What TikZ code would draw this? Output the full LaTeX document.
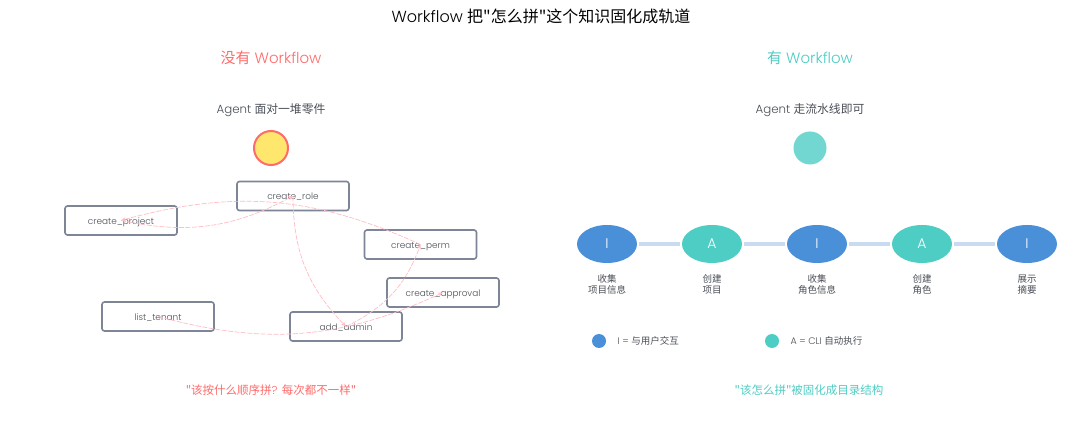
\documentclass[tikz,border=0pt]{standalone}
\usepackage{fontspec}
\setmainfont{Poppins Light}
\newfontfamily\zh{Noto Sans CJK SC}
\usetikzlibrary{arrows.meta,shapes.geometric}
\definecolor{redc}{HTML}{FF6B6B}
\definecolor{tealc}{HTML}{4ECDC4}
\definecolor{bluec}{HTML}{4A90D9}
\definecolor{linkc}{HTML}{C9DBF0}
\definecolor{boxc}{HTML}{7D8597}
\definecolor{textc}{HTML}{4A4F57}
\definecolor{edgec}{HTML}{FFBDC5}
\definecolor{yellowc}{HTML}{FFE66D}
\tikzset{
  x=1pt,y=-1pt,
  toolbox/.style={draw=boxc,line width=1.6pt,rounded corners=2.5pt,minimum width=112pt,minimum height=29pt,inner sep=0pt,text height=8pt,text depth=0pt,text=textc,font=\fontsize{8.9}{11}\selectfont},
  mess/.style={draw=edgec,line width=0.7pt,dash pattern=on 5pt off 1.5pt,-{Stealth[length=5pt,width=4pt]}},
  stage/.style={ellipse,minimum width=60pt,minimum height=38pt,inner sep=0pt,outer sep=2pt,text=white,font=\fontsize{14}{16}\selectfont},
  interactstage/.style={stage,fill=bluec},
  autostage/.style={stage,fill=tealc},
  link/.style={draw=linkc,line width=4pt},
  stagecap/.style={align=center,text=textc,font=\fontsize{9.5}{11}\selectfont\zh},
  legendtext/.style={anchor=west,text=textc,font=\fontsize{9.5}{10}\selectfont},
}
\begin{document}
\begin{tikzpicture}
\useasboundingbox[fill=white] (0,0) rectangle (1080,422);
\node (title) at (541,16) {\fontsize{16}{18}\selectfont Workflow {\zh 把"怎么拼"这个知识固化成轨道}};
\node[text=redc] (lefthead) at (271,57.5) {\fontsize{15}{17}\selectfont{\zh 没有} Workflow};
\node[text=tealc] (righthead) at (810,57.5) {\fontsize{15}{17}\selectfont{\zh 有} Workflow};
\node[text=textc] (leftagent) at (271,110) {\fontsize{11.8}{14}\selectfont Agent {\zh 面对一堆零件}};
\node[text=textc] (rightagent) at (810,110) {\fontsize{11.8}{14}\selectfont Agent {\zh 走流水线即可}};
\node[circle,draw=redc,line width=2pt,fill=yellowc,minimum size=34pt,inner sep=0pt] (agentA) at (271,148) {};
\node[circle,fill=tealc!80!white,minimum size=33pt,inner sep=0pt] (agentB) at (810,148) {};

\node[toolbox] (role) at (293,196) {create\_role};
\node[toolbox] (project) at (121,220.5) {create\_project};
\node[toolbox] (perm) at (420.5,244.5) {create\_perm};
\node[toolbox] (approval) at (443,292.5) {create\_approval};
\node[toolbox] (tenant) at (158,316.5) {list\_tenant};
\node[toolbox] (admin) at (346,326.5) {add\_admin};

\draw[mess] (project.center) to[bend right=20] (role.center);
\draw[mess] (perm.center) to[bend right=20] (project.center);
\draw[mess] (role.center) to[bend right=22] (admin.center);
\draw[mess] (admin.center) to[bend right=22] (perm.center);
\draw[mess] (tenant.center) to[bend right=20] (approval.center);

\node[text=redc] (leftnote) at (271,390) {\fontsize{11.5}{13}\selectfont{\zh "该按什么顺序拼}? {\zh 每次都不一样"}};
\node[text=tealc] (rightnote) at (809,390) {\fontsize{11.5}{13}\selectfont{\zh "该怎么拼"被固化成目录结构}};

\node[interactstage] (s1) at (607,244) {I};
\node[autostage] (s2) at (712,244) {A};
\node[interactstage] (s3) at (817,244) {I};
\node[autostage] (s4) at (922,244) {A};
\node[interactstage] (s5) at (1027,244) {I};
\draw[link] (s1) -- (s2);
\draw[link] (s2) -- (s3);
\draw[link] (s3) -- (s4);
\draw[link] (s4) -- (s5);

\node[stagecap] (c1) at (607,284.5) {收集\\项目信息};
\node[stagecap] (c2) at (712,284.5) {创建\\项目};
\node[stagecap] (c3) at (817,284.5) {收集\\角色信息};
\node[stagecap] (c4) at (922,284.5) {创建\\角色};
\node[stagecap] (c5) at (1027,284.5) {展示\\摘要};

\node[circle,fill=bluec,minimum size=14pt,inner sep=0pt] (l1) at (599,341) {};
\node[legendtext] (lt1) at (614,341) {I = {\zh 与用户交互}};
\node[circle,fill=tealc,minimum size=14pt,inner sep=0pt] (l2) at (772,341) {};
\node[legendtext] (lt2) at (787,341) {A = CLI {\zh 自动执行}};
\end{tikzpicture}
\end{document}
